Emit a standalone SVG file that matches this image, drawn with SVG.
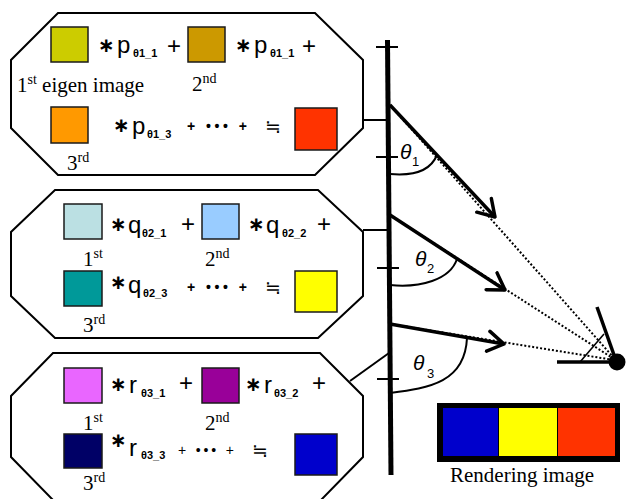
<svg xmlns="http://www.w3.org/2000/svg" width="626" height="499" viewBox="0 0 626 499">
  <style>
    .oct { fill: #fff; stroke: #000; stroke-width: 2; }
    .sq { stroke: #1a1a1a; stroke-width: 1.5; }
    .m { font-family: "Liberation Sans", Arial, sans-serif; font-size: 24px; fill: #000; }
    .ast { font-family: "DejaVu Sans", sans-serif; font-size: 20px; font-weight: bold; fill: #000; }
    .sub { font-family: "Liberation Sans", Arial, sans-serif; font-size: 11px; font-weight: bold; fill: #000; }
    .dots { font-family: "Liberation Sans", Arial, sans-serif; font-size: 14px; font-weight: bold; fill: #000; }
    .dots2 { font-family: "Liberation Sans", Arial, sans-serif; font-size: 14px; fill: #000; }
    .eq { font-family: "DejaVu Sans", sans-serif; font-size: 19px; fill: #000; }
    .lbl { font-family: "Liberation Serif", "Times New Roman", serif; font-size: 21px; fill: #000; }
    .sup { font-size: 14px; }
    .th { font-family: "Liberation Sans", Arial, sans-serif; font-size: 21px; font-style: italic; fill: #000; }
    .thn { font-family: "Liberation Sans", Arial, sans-serif; font-size: 13px; fill: #000; }
    .thin { stroke: #000; stroke-width: 2; fill: none; }
    .ray { stroke: #000; stroke-width: 3.5; fill: none; marker-end: url(#vhead); }
    .dot { stroke: #000; stroke-width: 2; stroke-dasharray: 2 2; fill: none; }
  </style>
  <defs>
    <marker id="vhead" markerUnits="userSpaceOnUse" viewBox="0 0 20 24" markerWidth="20" markerHeight="24" refX="18" refY="12" orient="auto">
      <path d="M2,2 L18,12 L2,22" fill="none" stroke="#000" stroke-width="3.5" stroke-linecap="round" stroke-linejoin="round"/>
    </marker>
  </defs>

  <!-- first sum: p weights -->
  <g id="sum-p">
    <polygon class="oct" points="58,13 315,13 363,60 363,128 315,175 58,175 11,128 11,60"/>
    <rect class="sq" x="51" y="27" width="37" height="35" fill="#CCCC00"/>
    <text class="ast" x="98" y="52">∗</text>
    <text class="m" x="117" y="53">p</text>
    <text class="sub" x="133" y="57">θ1_1</text>
    <text class="m" x="167" y="54">+</text>
    <rect class="sq" x="188" y="27" width="37" height="35" fill="#CC9900"/>
    <text class="ast" x="235" y="52">∗</text>
    <text class="m" x="254" y="53">p</text>
    <text class="sub" x="270" y="57">θ1_1</text>
    <text class="m" x="302" y="54">+</text>
    <text class="lbl" x="17" y="92">1<tspan class="sup" dy="-8">st</tspan><tspan dy="8"> eigen image</tspan></text>
    <text class="lbl" x="192" y="91">2<tspan class="sup" dy="-8">nd</tspan></text>
    <rect class="sq" x="51" y="107" width="37" height="36" fill="#FF9900"/>
    <text class="ast" x="113" y="132">∗</text>
    <text class="m" x="132" y="134">p</text>
    <text class="sub" x="147" y="138">θ1_3</text>
    <text class="dots" x="187" y="131" textLength="60">+ ••• +</text>
    <text class="eq" x="265" y="133">≒</text>
    <rect class="sq" x="295" y="108" width="42" height="42" fill="#FF3300"/>
    <text class="lbl" x="67" y="170">3<tspan class="sup" dy="-8">rd</tspan></text>
  </g>

  <!-- second sum: q weights -->
  <g id="sum-q">
    <polygon class="oct" points="55,190 318,190 363,232 363,296 318,338 55,338 11,296 11,232"/>
    <rect class="sq" x="64" y="204" width="38" height="35" fill="#BBE0E3"/>
    <text class="ast" x="110" y="231">∗</text>
    <text class="m" x="128" y="233">q</text>
    <text class="sub" x="142" y="237">θ2_1</text>
    <text class="m" x="181" y="232">+</text>
    <rect class="sq" x="202" y="204" width="37" height="35" fill="#99CCFF"/>
    <text class="ast" x="248" y="231">∗</text>
    <text class="m" x="266" y="233">q</text>
    <text class="sub" x="282" y="237">θ2_2</text>
    <text class="m" x="317" y="232">+</text>
    <text class="lbl" x="83" y="266">1<tspan class="sup" dy="-8">st</tspan></text>
    <text class="lbl" x="205" y="266">2<tspan class="sup" dy="-8">nd</tspan></text>
    <rect class="sq" x="64" y="271" width="38" height="35" fill="#009999"/>
    <text class="ast" x="110" y="289">∗</text>
    <text class="m" x="128" y="293">q</text>
    <text class="sub" x="143" y="297">θ2_3</text>
    <text class="dots" x="187" y="292" textLength="60">+ ••• +</text>
    <text class="eq" x="265" y="294">≒</text>
    <rect class="sq" x="295" y="271" width="42" height="41" fill="#FFFF00"/>
    <text class="lbl" x="83" y="332">3<tspan class="sup" dy="-8">rd</tspan></text>
  </g>

  <!-- third sum: r weights -->
  <g id="sum-r">
    <polygon class="oct" points="53,353 320,353 363,396 363,457 321,500 53,500 11,457 11,396"/>
    <rect class="sq" x="64" y="368" width="38" height="35" fill="#E966FF"/>
    <text class="ast" x="110" y="391">∗</text>
    <text class="m" x="129" y="393">r</text>
    <text class="sub" x="141" y="397">θ3_1</text>
    <text class="m" x="179" y="391">+</text>
    <rect class="sq" x="202" y="368" width="37" height="35" fill="#990099"/>
    <text class="ast" x="245" y="391">∗</text>
    <text class="m" x="264" y="393">r</text>
    <text class="sub" x="274" y="397">θ3_2</text>
    <text class="m" x="312" y="391">+</text>
    <text class="lbl" x="83" y="430">1<tspan class="sup" dy="-8">st</tspan></text>
    <text class="lbl" x="205" y="430">2<tspan class="sup" dy="-8">nd</tspan></text>
    <rect class="sq" x="64" y="434" width="38" height="34" fill="#000066"/>
    <text class="ast" x="110" y="447">∗</text>
    <text class="m" x="129" y="456">r</text>
    <text class="sub" x="141" y="459">θ3_3</text>
    <text class="dots2" x="178" y="455" textLength="56">+ ••• +</text>
    <text class="eq" x="252" y="457">≒</text>
    <rect class="sq" x="295" y="434" width="42" height="41" fill="#0000CC"/>
    <text class="lbl" x="83" y="490">3<tspan class="sup" dy="-8">rd</tspan></text>
  </g>

  <!-- screen plane with tick marks -->
  <g id="screen">
    <line x1="387.5" y1="40" x2="391" y2="475" stroke="#000" stroke-width="5"/>
    <line class="thin" x1="376" y1="47" x2="398" y2="47"/>
    <line class="thin" x1="376" y1="157" x2="398" y2="157"/>
    <line class="thin" x1="377" y1="268" x2="399" y2="268"/>
    <line class="thin" x1="377" y1="379" x2="399" y2="379"/>
  </g>

  <!-- viewer -->
  <g id="eye">
    <line x1="557" y1="362" x2="612" y2="362" stroke="#000" stroke-width="3.5"/>
    <line x1="597" y1="307" x2="614" y2="355" stroke="#000" stroke-width="3.5"/>
    <line x1="580" y1="362" x2="604" y2="334" stroke="#000" stroke-width="1.6"/>
    <circle cx="617" cy="362" r="8.5" fill="#000"/>
  </g>

  <!-- rendered result -->
  <g id="rendering">
    <rect x="437" y="403" width="183" height="59" fill="#000"/>
    <rect x="443" y="408" width="55" height="48" fill="#0000CC"/>
    <rect x="499" y="408" width="58" height="48" fill="#FFFF00"/>
    <rect x="558" y="408" width="57" height="48" fill="#FF3300"/>
    <text class="lbl" x="450" y="482">Rendering image</text>
  </g>

  <!-- connectors: sums to screen, view rays, angles -->
  <g id="connectors">
    <line class="thin" x1="363" y1="120" x2="389" y2="120"/>
    <line class="thin" x1="363" y1="230" x2="389" y2="230"/>
    <line class="thin" x1="350" y1="381" x2="389" y2="353"/>

    <line class="dot" x1="390" y1="105" x2="614" y2="358"/>
    <line class="dot" x1="390" y1="215" x2="614" y2="359"/>
    <line class="dot" x1="390" y1="324" x2="614" y2="360"/>

    <line class="ray" x1="390" y1="105" x2="495" y2="217"/>
    <line class="ray" x1="390" y1="215" x2="505" y2="290"/>
    <line class="ray" x1="390" y1="324" x2="504" y2="344"/>

    <path class="thin" d="M390,174 C412,176 430,172 437,155"/>
    <path class="thin" d="M390,285 C420,288 450,280 457,259"/>
    <path class="thin" d="M390,393 C430,388 465,382 467,338"/>

    <text class="th" x="400" y="159">θ</text>
    <text class="thn" x="412" y="166">1</text>
    <text class="th" x="415" y="266">θ</text>
    <text class="thn" x="427" y="273">2</text>
    <text class="th" x="413" y="370">θ</text>
    <text class="thn" x="427" y="378">3</text>
  </g>
</svg>
